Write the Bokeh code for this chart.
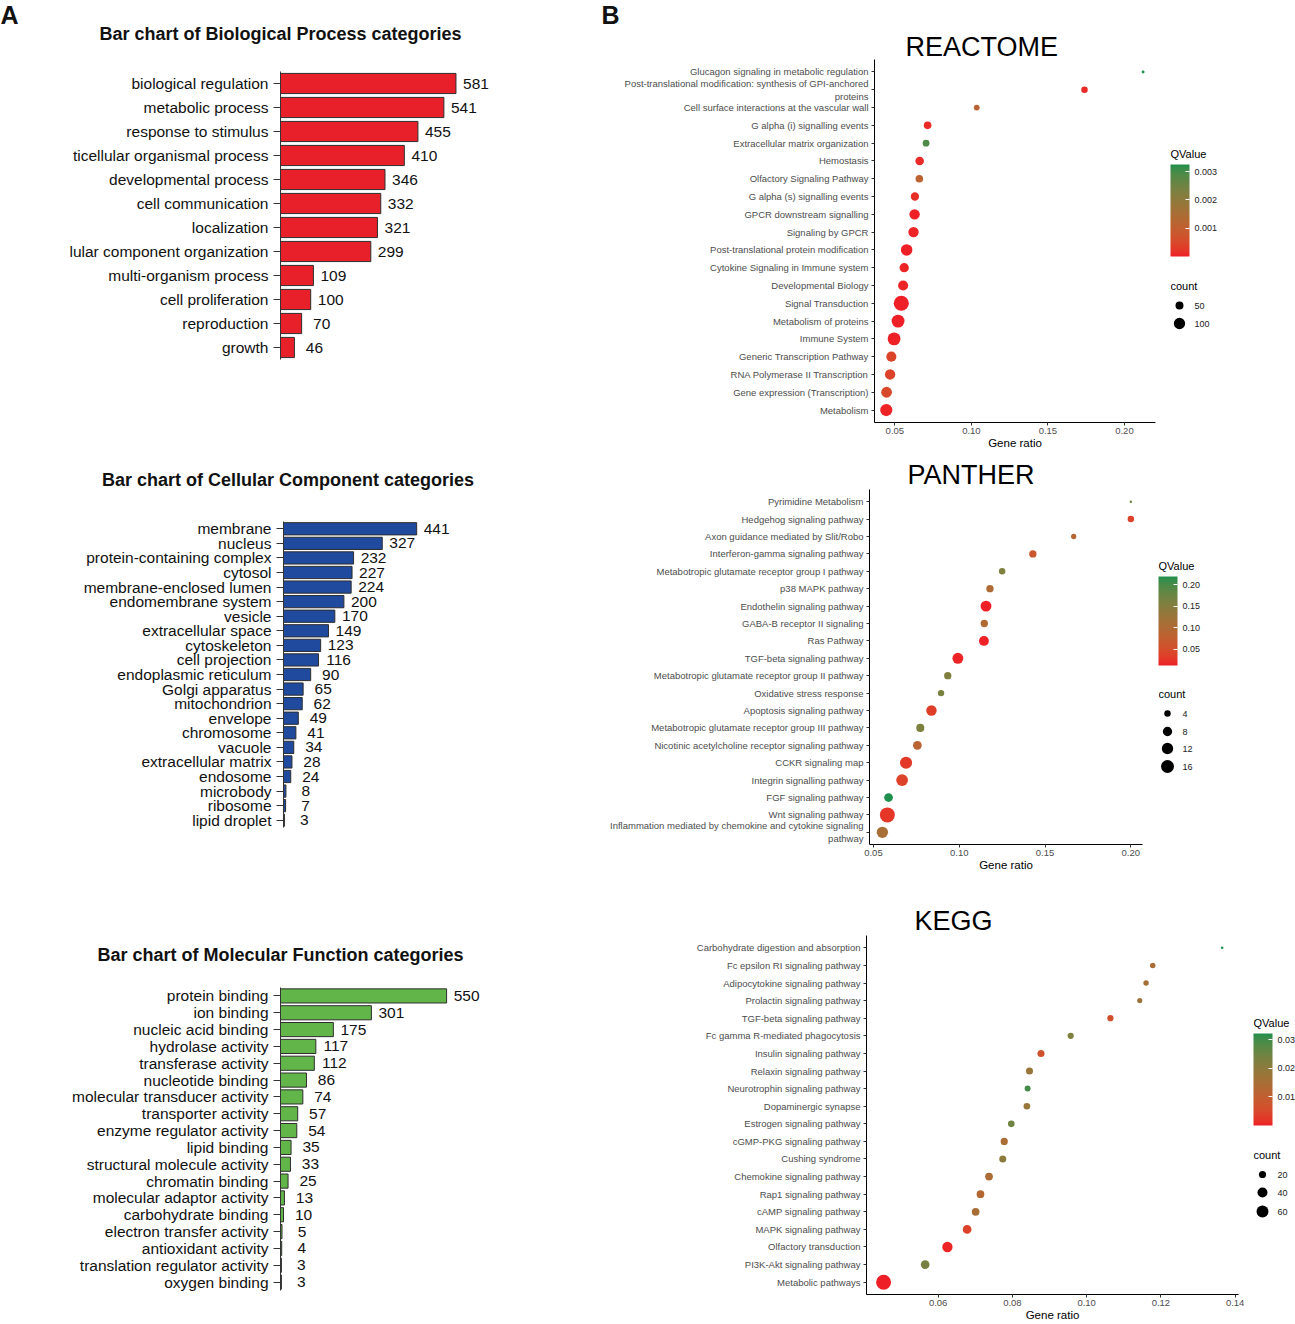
import math
from bokeh.plotting import figure
from bokeh.layouts import row, column
from bokeh.models import (ColumnDataSource, FactorRange, Range1d, ColorBar,
                          LinearColorMapper, FixedTicker, PrintfTickFormatter)
from bokeh.core.properties import value
from bokeh.embed import file_html
from bokeh.resources import INLINE

FONT = "Liberation Sans"

# ---------------- data: GO bar charts ----------------
bp_title = "Bar chart of Biological Process categories"
bp_categories = ["biological regulation", "metabolic process", "response to stimulus",
                 "ticellular organismal process", "developmental process", "cell communication",
                 "localization", "lular component organization", "multi-organism process",
                 "cell proliferation", "reproduction", "growth"]
bp_counts = [581, 541, 455, 410, 346, 332, 321, 299, 109, 100, 70, 46]

cc_title = "Bar chart of Cellular Component categories"
cc_categories = ["membrane", "nucleus", "protein-containing complex", "cytosol",
                 "membrane-enclosed lumen", "endomembrane system", "vesicle",
                 "extracellular space", "cytoskeleton", "cell projection",
                 "endoplasmic reticulum", "Golgi apparatus", "mitochondrion", "envelope",
                 "chromosome", "vacuole", "extracellular matrix", "endosome", "microbody",
                 "ribosome", "lipid droplet"]
cc_counts = [441, 327, 232, 227, 224, 200, 170, 149, 123, 116, 90, 65, 62, 49, 41, 34, 28, 24, 8, 7, 3]

mf_title = "Bar chart of Molecular Function categories"
mf_categories = ["protein binding", "ion binding", "nucleic acid binding", "hydrolase activity",
                 "transferase activity", "nucleotide binding", "molecular transducer activity",
                 "transporter activity", "enzyme regulator activity", "lipid binding",
                 "structural molecule activity", "chromatin binding", "molecular adaptor activity",
                 "carbohydrate binding", "electron transfer activity", "antioxidant activity",
                 "translation regulator activity", "oxygen binding"]
mf_counts = [550, 301, 175, 117, 112, 86, 74, 57, 54, 35, 33, 25, 13, 10, 5, 4, 3, 3]

# ---------------- data: REACTOME ----------------
re_terms = ["Glucagon signaling in metabolic regulation",
            "Post-translational modification: synthesis of GPI-anchored\nproteins",
            "Cell surface interactions at the vascular wall", "G alpha (i) signalling events",
            "Extracellular matrix organization", "Hemostasis", "Olfactory Signaling Pathway",
            "G alpha (s) signalling events", "GPCR downstream signalling", "Signaling by GPCR",
            "Post-translational protein modification", "Cytokine Signaling in Immune system",
            "Developmental Biology", "Signal Transduction", "Metabolism of proteins",
            "Immune System", "Generic Transcription Pathway", "RNA Polymerase II Transcription",
            "Gene expression (Transcription)", "Metabolism"]
re_ratio = [0.2122, 0.1739, 0.1035, 0.0714, 0.0704, 0.0662, 0.0660, 0.0631, 0.0629, 0.0622,
            0.0577, 0.0561, 0.0554, 0.0542, 0.0521, 0.0495, 0.0477, 0.0469, 0.0446, 0.0444]
re_count = [21, 36, 30, 46, 38, 57, 46, 54, 84, 84, 104, 67, 79, 188, 133, 133, 79, 84, 91, 118]
re_qvalue = [0.00325, 0.00008, 0.00115, 0.00010, 0.00290, 0.00008, 0.00110, 0.00015, 0.00002,
             0.00003, 0.00001, 0.00005, 0.00004, 0.000001, 0.00001, 0.00002, 0.00042, 0.00040,
             0.00050, 0.00003]
re_x_ticks = [0.05, 0.10, 0.15, 0.20]
re_q_ticks = [0.001, 0.002, 0.003]
re_count_breaks = [50, 100]

# ---------------- data: PANTHER ----------------
pa_terms = ["Pyrimidine Metabolism", "Hedgehog signaling pathway",
            "Axon guidance mediated by Slit/Robo", "Interferon-gamma signaling pathway",
            "Metabotropic glutamate receptor group I pathway", "p38 MAPK pathway",
            "Endothelin signaling pathway", "GABA-B receptor II signaling", "Ras Pathway",
            "TGF-beta signaling pathway", "Metabotropic glutamate receptor group II pathway",
            "Oxidative stress response", "Apoptosis signaling pathway",
            "Metabotropic glutamate receptor group III pathway",
            "Nicotinic acetylcholine receptor signaling pathway", "CCKR signaling map",
            "Integrin signalling pathway", "FGF signaling pathway", "Wnt signaling pathway",
            "Inflammation mediated by chemokine and cytokine signaling\npathway"]
pa_ratio = [0.2000, 0.2000, 0.1667, 0.1429, 0.1250, 0.1179, 0.1156, 0.1146, 0.1144, 0.0992,
            0.0933, 0.0894, 0.0838, 0.0773, 0.0756, 0.0690, 0.0667, 0.0588, 0.0581, 0.0552]
pa_count = [2, 4, 3, 5, 4, 5, 11, 5, 9, 11, 5, 4, 10, 6, 7, 14, 13, 7, 22, 12]
pa_qvalue = [0.173, 0.037, 0.091, 0.064, 0.157, 0.099, 0.0128, 0.099, 0.014, 0.016,
             0.155, 0.161, 0.033, 0.157, 0.085, 0.029, 0.037, 0.2186, 0.027, 0.110]
pa_x_ticks = [0.05, 0.10, 0.15, 0.20]
pa_q_ticks = [0.05, 0.10, 0.15, 0.20]
pa_count_breaks = [4, 8, 12, 16]

# ---------------- data: KEGG ----------------
ke_terms = ["Carbohydrate digestion and absorption", "Fc epsilon RI signaling pathway",
            "Adipocytokine signaling pathway", "Prolactin signaling pathway",
            "TGF-beta signaling pathway", "Fc gamma R-mediated phagocytosis",
            "Insulin signaling pathway", "Relaxin signaling pathway",
            "Neurotrophin signaling pathway", "Dopaminergic synapse",
            "Estrogen signaling pathway", "cGMP-PKG signaling pathway", "Cushing syndrome",
            "Chemokine signaling pathway", "Rap1 signaling pathway", "cAMP signaling pathway",
            "MAPK signaling pathway", "Olfactory transduction", "PI3K-Akt signaling pathway",
            "Metabolic pathways"]
ke_ratio = [0.1365, 0.1178, 0.1160, 0.1143, 0.1064, 0.0957, 0.0877, 0.0846, 0.0841, 0.0839,
            0.0797, 0.0778, 0.0774, 0.0737, 0.0714, 0.0701, 0.0678, 0.0625, 0.0565, 0.0453]
ke_count = [7, 12, 12, 11, 15, 15, 19, 19, 14, 17, 17, 20, 19, 23, 23, 23, 30, 43, 30, 100]
ke_qvalue = [0.0321, 0.0145, 0.0160, 0.0177, 0.0064, 0.0225, 0.0071, 0.0180, 0.0295, 0.0183,
             0.0247, 0.0145, 0.0202, 0.0143, 0.0128, 0.0151, 0.0039, 0.0004, 0.0234, 0.000001]
ke_x_ticks = [0.06, 0.08, 0.10, 0.12, 0.14]
ke_q_ticks = [0.01, 0.02, 0.03]
ke_count_breaks = [20, 40, 60]


# ---------------- colour helpers (CIELAB gradient like ggplot) ----------------
def _hex(h):
    h = h.lstrip("#")
    return [int(h[i:i + 2], 16) for i in (0, 2, 4)]


def _to_lab(rgb):
    def lin(c):
        c = c / 255.0
        return c / 12.92 if c <= 0.04045 else ((c + 0.055) / 1.055) ** 2.4
    r, g, b = [lin(c) for c in rgb]
    X = (0.4124 * r + 0.3576 * g + 0.1805 * b) / 0.95047
    Y = (0.2126 * r + 0.7152 * g + 0.0722 * b)
    Z = (0.0193 * r + 0.1192 * g + 0.9505 * b) / 1.08883

    def f(t):
        return t ** (1 / 3) if t > 0.008856 else 7.787 * t + 16 / 116
    fx, fy, fz = f(X), f(Y), f(Z)
    return (116 * fy - 16, 500 * (fx - fy), 200 * (fy - fz))


def _from_lab(lab):
    L, a, b = lab
    fy = (L + 16) / 116
    fx = fy + a / 500
    fz = fy - b / 200

    def finv(t):
        return t ** 3 if t ** 3 > 0.008856 else (t - 16 / 116) / 7.787
    X, Y, Z = finv(fx) * 0.95047, finv(fy), finv(fz) * 1.08883
    r = 3.2406 * X - 1.5372 * Y - 0.4986 * Z
    g = -0.9689 * X + 1.8758 * Y + 0.0415 * Z
    bb = 0.0557 * X - 0.2040 * Y + 1.0570 * Z

    def enc(c):
        c = max(0.0, min(1.0, c))
        v = 12.92 * c if c <= 0.0031308 else 1.055 * c ** (1 / 2.4) - 0.055
        return int(round(max(0, min(1, v)) * 255))
    return "#%02x%02x%02x" % (enc(r), enc(g), enc(bb))


def lab_palette(low, high, n=256):
    l0, l1 = _to_lab(_hex(low)), _to_lab(_hex(high))
    return [_from_lab(tuple(l0[k] + (l1[k] - l0[k]) * i / (n - 1) for k in range(3))) for i in range(n)]


PALETTE = lab_palette("#EE1F26", "#1E8F4C")


def size_map(counts, breaks, r0, r1):
    cmin, cmax = min(counts), max(counts)

    def f(c):
        return r0 + (r1 - r0) * math.sqrt(max(c - cmin, 0) / (cmax - cmin))
    return [f(c) for c in counts], [f(b) for b in breaks]


COMMON = dict(output_backend="svg", toolbar_location=None, frame_align=False)

# ---------------- builders ----------------
PX_PER_UNIT = 0.302


def strip(width, height, items):
    s = figure(width=width, height=height, x_range=Range1d(0, width), y_range=Range1d(height, 0),
               min_border=0, x_axis_location=None, y_axis_location=None, **COMMON)
    s.grid.visible = False
    s.outline_line_color = None
    for (x, y, txt, size, align, style) in items:
        s.text(x=[x], y=[y], text=[txt], text_align=align, text_baseline="middle",
               text_font=value(FONT), text_font_size=size, text_font_style=style,
               text_color="#111111" if style == "bold" else "black")
    return s


def bar_chart(cats, vals, color, width, height, frame_left, btop, bbottom):
    p = figure(width=width, height=height,
               y_range=FactorRange(factors=list(reversed(cats))),
               x_range=Range1d(0, (width - frame_left) / PX_PER_UNIT),
               min_border_left=frame_left, min_border_right=0,
               min_border_top=btop, min_border_bottom=bbottom, **COMMON)
    src = ColumnDataSource(dict(cat=cats, val=vals, lab=[str(v) for v in vals]))
    p.hbar(y="cat", left=0, right="val", height=0.84, source=src,
           fill_color=color, line_color="#2e2e2e", line_width=1)
    p.text(x="val", y="cat", text="lab", source=src, x_offset=20,
           text_align="center", text_baseline="middle",
           text_font=value(FONT), text_font_size="15.5px", text_color="#111111")
    p.xaxis.visible = False
    p.grid.visible = False
    p.outline_line_color = None
    ax = p.yaxis[0]
    ax.axis_line_color = "#333333"
    ax.major_tick_line_color = "#333333"
    ax.major_tick_out = 7
    ax.major_tick_in = 0
    ax.major_label_standoff = 5
    ax.major_label_text_font = FONT
    ax.major_label_text_font_size = "15.5px"
    ax.major_label_text_color = "#111111"
    return p


def dot_plot(title, terms, ratio, counts, q, mapper, sizes, xr, ticks,
             width, height, bl, br, bt, bb, t_offset, t_standoff=0):
    p = figure(width=width, height=height, title=title,
               x_range=Range1d(*xr),
               y_range=FactorRange(factors=list(reversed(terms)), range_padding=0.2,
                                   range_padding_units="absolute"),
               min_border_left=bl, min_border_right=br, min_border_top=bt, min_border_bottom=bb,
               **COMMON)
    src = ColumnDataSource(dict(term=terms, ratio=ratio, count=counts, q=q, d=sizes))
    p.scatter(x="ratio", y="term", size="d", source=src, marker="circle",
              fill_color={"field": "q", "transform": mapper}, line_color=None)
    p.grid.visible = False
    p.outline_line_color = None
    for ax in (p.xaxis[0], p.yaxis[0]):
        ax.axis_line_color = "black"
        ax.axis_line_width = 1
        ax.major_tick_line_color = "#333333"
        ax.major_tick_out = 3
        ax.major_tick_in = 0
        ax.minor_tick_line_color = None
        ax.major_label_text_font = FONT
        ax.major_label_text_font_size = "9.5px"
        ax.major_label_text_color = "#4d4d4d"
    p.yaxis.major_label_standoff = 3
    p.xaxis.major_label_standoff = 2
    p.xaxis.ticker = FixedTicker(ticks=ticks)
    p.xaxis.formatter = PrintfTickFormatter(format="%.2f")
    p.xaxis.axis_label = "Gene ratio"
    p.xaxis.axis_label_text_font = FONT
    p.xaxis.axis_label_text_font_size = "11.5px"
    p.xaxis.axis_label_text_font_style = "normal"
    p.xaxis.axis_label_text_color = "black"
    p.xaxis.axis_label_standoff = 0
    p.title.align = "left"
    p.title.offset = t_offset
    p.title.standoff = t_standoff
    p.title.text_font = FONT
    p.title.text_font_size = "27px"
    p.title.text_font_style = "normal"
    p.title.text_color = "black"
    return p


def legend_fig(width, height, bl, bt, mapper, q_ticks, fmt, bar_h, breaks, bsizes, y_count, y_keys):
    lf = figure(width=width, height=height, title="QValue",
                x_range=Range1d(0, width - bl), y_range=Range1d(height - bt, 0),
                min_border_left=bl, min_border_top=bt, min_border_right=0, min_border_bottom=0,
                x_axis_location=None, y_axis_location=None, **COMMON)
    lf.grid.visible = False
    lf.outline_line_color = None
    lf.title.align = "left"
    lf.title.offset = 0
    lf.title.standoff = 9
    lf.title.text_font = FONT
    lf.title.text_font_size = "11px"
    lf.title.text_font_style = "normal"
    lf.title.text_color = "black"
    cb = ColorBar(color_mapper=mapper, ticker=FixedTicker(ticks=q_ticks),
                  formatter=PrintfTickFormatter(format=fmt),
                  location="top_left", orientation="vertical", width=19, height=bar_h,
                  padding=0, margin=0,
                  major_label_text_font=FONT, major_label_text_font_size="9px",
                  major_label_text_color="#222222", label_standoff=5,
                  bar_line_color=None, border_line_color=None,
                  major_tick_line_color="white", major_tick_in=4, major_tick_out=0,
                  background_fill_alpha=0)
    lf.add_layout(cb, "center")
    lf.text(x=[0], y=[y_count], text=["count"], text_baseline="middle",
            text_font=value(FONT), text_font_size="11px", text_color="black")
    lf.scatter(x=[9] * len(breaks), y=y_keys, size=bsizes, marker="circle",
               fill_color="black", line_color=None)
    lf.text(x=[24] * len(breaks), y=y_keys, text=[str(b) for b in breaks],
            text_baseline="middle", text_font=value(FONT), text_font_size="9px",
            text_color="#222222")
    return lf


# ---------------- left column (GO) ----------------
bp_head = strip(598, 56, [(0, 14, "A", "25px", "left", "bold"),
                          (280, 33.6, bp_title, "18px", "center", "bold")])
bp = bar_chart(bp_categories, bp_counts, "#E8202A", 598, 399, 280, 15, 96)
cc_head = strip(598, 45, [(287.5, 24.6, cc_title, "18px", "center", "bold")])
cc = bar_chart(cc_categories, cc_counts, "#1F4A9E", 598, 430, 283, 21, 103)
mf_head = strip(598, 45, [(280, 24.6, mf_title, "18px", "center", "bold")])
mf = bar_chart(mf_categories, mf_counts, "#62B548", 598, 349, 280, 12, 34)
left = column(bp_head, bp, cc_head, cc, mf_head, mf)

# ---------------- right column (pathways) ----------------
b_head = strip(697, 30, [(3, 14, "B", "25px", "left", "bold")])
re_map = LinearColorMapper(palette=PALETTE, low=min(re_qvalue), high=max(re_qvalue))
re_sz, re_bsz = size_map(re_count, re_count_breaks, 2.9, 15.1)
re_p = dot_plot("REACTOME", re_terms, re_ratio, re_count, re_qvalue, re_map, re_sz,
                (0.0367, 0.2203), re_x_ticks, 562, 425, 276, 5, 29, 33, 31, -4)
re_l = legend_fig(135, 425, 10, 134, re_map, re_q_ticks, "%.3f", 92,
                  re_count_breaks, re_bsz, 121, [141, 159])

pa_map = LinearColorMapper(palette=PALETTE, low=min(pa_qvalue), high=max(pa_qvalue))
pa_sz, pa_bsz = size_map(pa_count, pa_count_breaks, 2.5, 15.0)
pa_p = dot_plot("PANTHER", pa_terms, pa_ratio, pa_count, pa_qvalue, pa_map, pa_sz,
                (0.0477, 0.2068), pa_x_ticks, 552, 445, 271, 8, 34, 56, 38)
pa_l = legend_fig(145, 445, 8, 121, pa_map, pa_q_ticks, "%.2f", 89,
                  pa_count_breaks, pa_bsz, 117, [137, 155, 172, 190])

ke_map = LinearColorMapper(palette=PALETTE, low=min(ke_qvalue), high=max(ke_qvalue))
ke_sz, ke_bsz = size_map(ke_count, ke_count_breaks, 2.6, 15.0)
ke_p = dot_plot("KEGG", ke_terms, ke_ratio, ke_count, ke_qvalue, ke_map, ke_sz,
                (0.0407, 0.1409), ke_x_ticks, 646, 424, 268, 6, 35, 30, 48)
ke_l = legend_fig(51, 424, 9, 133, ke_map, ke_q_ticks, "%.2f", 92,
                  ke_count_breaks, ke_bsz, 121, [141, 159, 178])

right = column(b_head, row(re_p, re_l), row(pa_p, pa_l), row(ke_p, ke_l))

layout = row(left, right)
open("out.html", "w").write(file_html(layout, INLINE))
